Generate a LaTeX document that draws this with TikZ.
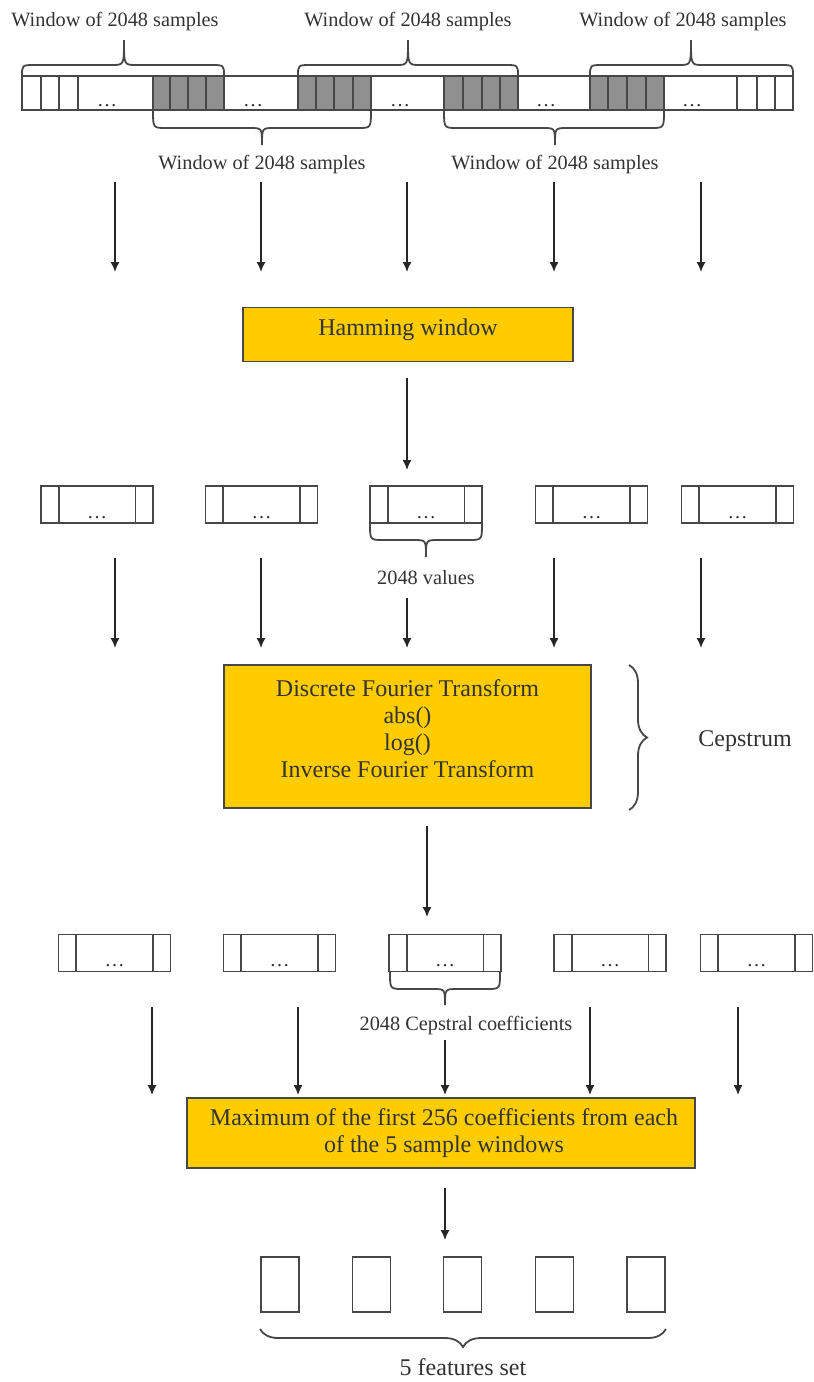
\documentclass[tikz,border=0pt]{standalone}
\usepackage{fontspec}
\setmainfont{Liberation Serif}
\usetikzlibrary{arrows.meta,decorations.pathreplacing}
\definecolor{ink}{HTML}{474747}
\definecolor{txt}{HTML}{333333}
\definecolor{gold}{HTML}{FFCC00}
\definecolor{cellgray}{HTML}{909090}
% rounded brace: x1, x2, end y, straight y, tip y, tip x
\newcommand{\roundbrace}[6]{\draw[ln] (#1,#3) .. controls (#1,#4) .. ({#1+13},#4) -- ({#6-12},#4) .. controls (#6,#4) .. (#6,#5) .. controls (#6,#4) .. ({#6+12},#4) -- ({#2-13},#4) .. controls (#2,#4) .. (#2,#3);}
\begin{document}
\begin{tikzpicture}[x=1pt,y=-1pt,
  ln/.style={draw=ink,line width=1.8pt},
  arr/.style={draw=black!85,line width=1.5pt,-{Latex[length=10pt,width=9pt]}},
  proc/.style={draw=ink,line width=1.8pt,fill=gold,text=txt,font=\fontsize{24}{27}\selectfont,align=center,inner sep=0pt},
  lbl/.style={text=txt,font=\fontsize{20.3}{22}\selectfont,inner sep=0pt},
  big/.style={text=txt,font=\fontsize{24}{27}\selectfont,inner sep=0pt},
  dotsl/.style={text=txt,font=\fontsize{20}{22}\selectfont,inner sep=0pt,anchor=base},
  seqbox/.style={draw=ink,line width=1.8pt,minimum width=112pt,minimum height=37pt,inner sep=0pt},
  feat/.style={draw=ink,line width=1.8pt,minimum width=38pt,minimum height=55pt,inner sep=0pt}]
\useasboundingbox (0,0) rectangle (814,1382);
\fill[white] (0,0) rectangle (814,1382);

% ---- sample strip ----
\foreach \a/\b in {153/224,298/371,444/518,590/664} \fill[cellgray] (\a,76) rectangle (\b,110);
\draw[ln] (22,76) rectangle (793,110);
\foreach \x in {41,59,78,153,170,188,206,224,298,316,334,353,371,444,463,482,500,518,590,608,627,646,664,737,757,775}
  \draw[ln] (\x,76) -- (\x,110);
\foreach \x [count=\i] in {107,253,400,546,692} \node[dotsl] (sd\i) at (\x,106) {…};

% ---- window braces ----
\roundbrace{22}{224}{76}{65}{40}{124}
\roundbrace{298}{518}{76}{65}{40}{408}
\roundbrace{590}{793}{76}{65}{40}{691}
\roundbrace{153}{371}{110}{128}{145}{262}
\roundbrace{444}{664}{110}{128}{145}{555}
\node[lbl] (w1) at (115,22) {Window of 2048 samples};
\node[lbl] (w2) at (408,22) {Window of 2048 samples};
\node[lbl] (w3) at (683,22) {Window of 2048 samples};
\node[lbl] (w4) at (262,165) {Window of 2048 samples};
\node[lbl] (w5) at (555,165) {Window of 2048 samples};

% ---- arrows row 1 ----
\foreach \x [count=\i] in {115,261,407,554,701} {
  \coordinate (ta\i) at (\x,182); \coordinate (tb\i) at (\x,272);
  \draw[arr] (ta\i) -- (tb\i);
}

% ---- Hamming ----
\node[proc,minimum width=330pt,minimum height=54pt] (ham) at (408,334.5) {};
\node[big] (hamtxt) at (408,330) {Hamming window};
\coordinate (hs) at (407,378); \coordinate (he) at (407,470);
\draw[arr] (hs) -- (he);

% ---- row 2 boxes ----
\foreach \x [count=\i] in {97,261.5,426,591.5,737.5} {
  \node[seqbox] (p\i) at (\x,504.5) {};
  \draw[ln] ([xshift=18.5pt]p\i.north west) -- ([xshift=18.5pt]p\i.south west);
  \draw[ln] ([xshift=-18.5pt]p\i.north east) -- ([xshift=-18.5pt]p\i.south east);
  \node[dotsl] (pd\i) at (\x,518) {…};
}
\roundbrace{370}{482}{523}{540}{557}{426}
\node[lbl] (vals) at (426,578) {2048 values};

% ---- arrows row 3 ----
\foreach \x/\s [count=\i] in {115/558,261/558,407/598,554/558,701/558} {
  \coordinate (ma\i) at (\x,\s); \coordinate (mb\i) at (\x,648);
  \draw[arr] (ma\i) -- (mb\i);
}

% ---- Cepstrum block ----
\node[proc,minimum width=367pt,minimum height=143pt] (cep) at (407.5,736.5) {};
\node[big,align=center] (ceptxt) at (407.5,729) {Discrete Fourier Transform\\abs()\\log()\\Inverse Fourier Transform};
\draw[ln,decorate,decoration={brace,amplitude=18pt}] (629,665) -- (629,810);
\node[big] (ceplbl) at (745,741) {Cepstrum};
\coordinate (cs) at (427,826); \coordinate (ce) at (427,917);
\draw[arr] (cs) -- (ce);

% ---- row 4 boxes ----
\foreach \x [count=\i] in {114.5,279.5,445,610,756.5} {
  \node[seqbox] (q\i) at (\x,953) {};
  \draw[ln] ([xshift=18.5pt]q\i.north west) -- ([xshift=18.5pt]q\i.south west);
  \draw[ln] ([xshift=-18.5pt]q\i.north east) -- ([xshift=-18.5pt]q\i.south east);
  \node[dotsl] (qd\i) at (\x,966.5) {…};
}
\roundbrace{390}{500}{972}{989}{1005}{445}
\node[lbl] (coef) at (466,1026) {2048 Cepstral coefficients};

% ---- arrows row 5 ----
\foreach \x/\s [count=\i] in {152/1007,298/1007,445/1040,590/1007,738/1007} {
  \coordinate (na\i) at (\x,\s); \coordinate (nb\i) at (\x,1095);
  \draw[arr] (na\i) -- (nb\i);
}

% ---- Maximum block ----
\node[proc,minimum width=508pt,minimum height=70pt] (mx) at (441,1133) {};
\node[big,align=center] (mxtxt) at (444,1133) {Maximum of the first 256 coefficients from each\\of the 5 sample windows};
\coordinate (xs) at (445,1188); \coordinate (xe) at (445,1240);
\draw[arr] (xs) -- (xe);

% ---- features ----
\foreach \x [count=\i] in {280,371.5,462.5,554.5,646} \node[feat] (f\i) at (\x,1284.5) {};
\draw[ln,decorate,decoration={brace,mirror,amplitude=18pt}] (f1.south west |- 0,1329) -- (f5.south east |- 0,1329);
\node[big] (fs) at (463,1367) {5 features set};
\end{tikzpicture}
\end{document}
